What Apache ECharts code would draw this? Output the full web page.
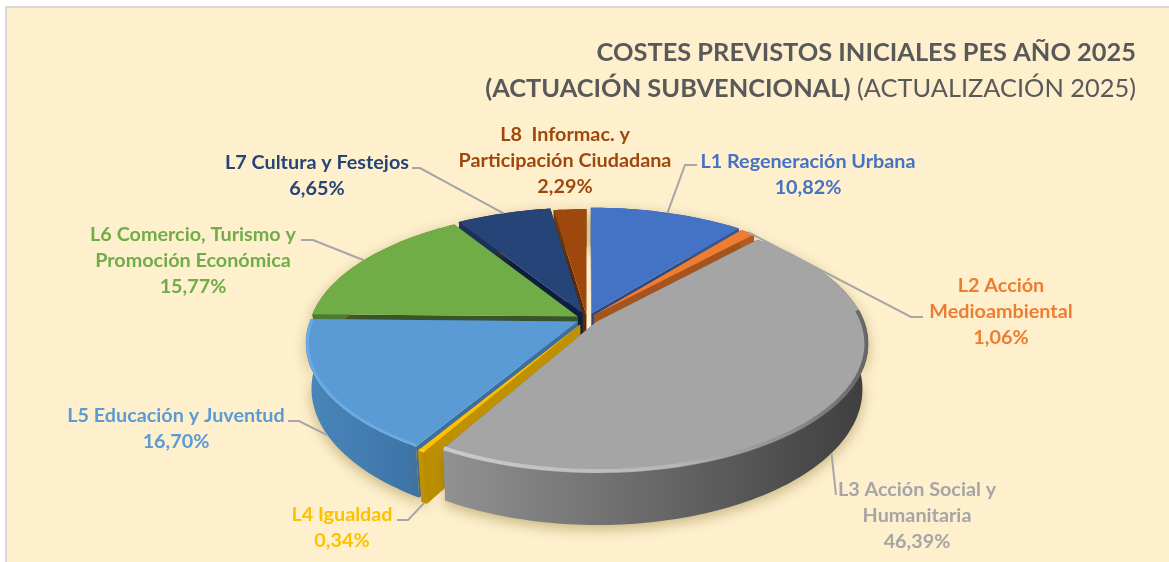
<!DOCTYPE html>
<html>
<head>
<meta charset="utf-8">
<script src="https://cdn.jsdelivr.net/npm/echarts@6/dist/echarts.min.js"></script>
<style>
  html, body { margin: 0; padding: 0; background: #fff; }
  #chart { width: 1169px; height: 562px; }
</style>
</head>
<body>
<div id="chart"></div>
<script>
// datos
var categories = ['L1 Regeneración Urbana', 'L2 Acción\nMedioambiental', 'L3 Acción Social y\nHumanitaria', 'L4 Igualdad',
  'L5 Educación y Juventud', 'L6 Comercio, Turismo y\nPromoción Económica', 'L7 Cultura y Festejos', 'L8  Informac. y\nParticipación Ciudadana'];
var values = [10.82, 1.06, 46.39, 0.34, 16.70, 15.77, 6.65, 2.29];

// estilo de cada porcion
var topColors = ['#4472c4', '#ed7d31', '#a5a5a5', '#ffc000', '#5b9bd5', '#70ad47', '#264478', '#9e480e'];
var sideColors = ['#2a4a85', '#a5531f', '#6e6e6e', '#bf9000', '#3d6f9e', '#37542a', '#0d1f3f', '#5c2a08'];
var labelColors = ['#4472c4', '#ed7d31', '#a5a5a5', '#ffc000', '#5b9bd5', '#70ad47', '#264478', '#9e480e'];
var wallStops = [['#36568f', '#36568f'], ['#b25a20', '#b25a20'], ['#929292', '#3e3e3e'], ['#c79600', '#b98c00'],
  ['#4a86bb', '#3d73a6'], ['#4f7a33', '#4f7a33'], ['#1b3156', '#1b3156'], ['#6e3309', '#6e3309']];
var explode = [0.05, 0.04, 0.042, 0.05, 0.04, 0.04, 0.05, 0.03];
var drawOrder = [7, 6, 0, 5, 1, 4, 3, 2];

// sitio de las etiquetas
var labelPos = [[808, 175], [1001, 312], [917, 516], [342, 528], [176, 429], [193, 261], [317, 176], [565, 161]];
var leaderEnds = [[[685, 165], [697, 165]], [[911, 317], [923, 317]], [[836, 495]], [[408, 520], [397, 520]],
  [[299, 421], [288, 421]], [[313, 240], [301, 240]], [[420, 168], [412, 168]], null];

var cx = 587, cy = 319, rx = 267, ry = 124.5, persp = 0.163, wallH = 44, baseScale = 0.98;
var font = 'Lato, Carlito, "Open Sans", sans-serif';

var total = values.reduce(function (a, b) { return a + b; }, 0);
var starts = [], acc = 0;
values.forEach(function (v) { starts.push(acc / total * Math.PI * 2); acc += v; });

function project(px, py) {
  var d = 1 + persp * py;
  return [cx + rx * px / d, cy - ry * py / d, wallH / d];
}
function slice(i) {
  var a0 = starts[i], a1 = a0 + values[i] / total * Math.PI * 2, mid = (a0 + a1) / 2;
  var ox = Math.sin(mid) * explode[i], oy = Math.cos(mid) * explode[i];
  var n = Math.max(3, Math.ceil((a1 - a0) * 40)), rim = [];
  for (var k = 0; k <= n; k++) {
    var a = a0 + (a1 - a0) * k / n;
    rim.push(project(ox + Math.sin(a), oy + Math.cos(a)));
  }
  return { apex: project(ox, oy), rim: rim, midPt: project(ox + Math.sin(mid), oy + Math.cos(mid)), a0: a0, a1: a1, ox: ox, oy: oy };
}
function xy(p) { return [p[0], p[1]]; }
// punto en el plano inferior, algo mas pequeno por la perspectiva
function low(p) { return [cx + (p[0] - cx) * baseScale, p[1] + p[2]]; }
function poly(points, style) {
  return { type: 'polygon', shape: { points: points }, style: style };
}

function renderSlice(params, api) {
  var i = api.value(0), s = slice(i), children = [];
  var last = s.rim[s.rim.length - 1], first = s.rim[0];
  // caras radiales
  children.push(poly([xy(s.apex), xy(first), low(first), low(s.apex)], { fill: sideColors[i] }));
  children.push(poly([xy(s.apex), xy(last), low(last), low(s.apex)], { fill: sideColors[i] }));
  // pared exterior
  var wall = s.rim.map(xy).concat(s.rim.slice().reverse().map(low));
  children.push(poly(wall, {
    fill: { type: 'linear', x: 0, y: 0, x2: 1, y2: 0, colorStops: [{ offset: 0, color: wallStops[i][0] }, { offset: 1, color: wallStops[i][1] }] },
    shadowBlur: 14, shadowColor: 'rgba(120,95,20,0.42)', shadowOffsetY: 4
  }));
  // cara superior
  children.push(poly([xy(s.apex)].concat(s.rim.map(xy)), { fill: topColors[i] }));
  // brillo del borde
  if (i === 2 || i === 3 || i === 4) {
    var edge = [];
    for (var k = 0; k <= 60; k++) {
      var a = s.a0 + (s.a1 - s.a0) * k / 60;
      if (Math.cos(a) < 0.1) {
        var p = project(s.ox + Math.sin(a) * 0.994, s.oy + Math.cos(a) * 0.994);
        edge.push(xy(p));
      }
    }
    var stops = i === 2
      ? [{ offset: 0, color: '#d8d8d8' }, { offset: 0.55, color: '#bcbcbc' }, { offset: 0.8, color: '#8a8a8a' }, { offset: 1, color: '#505050' }]
      : [{ offset: 0, color: i === 3 ? '#ffd24d' : '#79b9f2' }, { offset: 1, color: i === 3 ? '#ffd24d' : '#79b9f2' }];
    children.push({
      type: 'polyline', shape: { points: edge },
      style: {
        fill: 'none', lineWidth: i === 2 ? 4 : 2.5, opacity: i === 2 ? 0.75 : 0.55,
        stroke: { type: 'linear', x: 0, y: 0, x2: 1, y2: 0, colorStops: stops }
      }
    });
  }
  return { type: 'group', children: children };
}

function renderLabel(params, api) {
  var i = api.value(0), s = slice(i), children = [];
  if (leaderEnds[i]) {
    var m = s.midPt;
    var front = Math.cos((s.a0 + s.a1) / 2) < 0 ? 1 : 0;
    var start = front ? low(m) : xy(m);
    children.push({
      type: 'polyline', shape: { points: [start].concat(leaderEnds[i]) },
      style: { fill: 'none', stroke: '#a6a6a6', lineWidth: 2 }
    });
  }
  children.push({
    type: 'text',
    style: {
      text: categories[i] + '\n' + values[i].toFixed(2).replace('.', ',') + '%',
      x: labelPos[i][0], y: labelPos[i][1], align: 'center', verticalAlign: 'middle',
      fill: labelColors[i], fontFamily: font, fontWeight: 'bold', fontSize: 19.8, lineHeight: 26
    }
  });
  return { type: 'group', children: children };
}

var chart = echarts.init(document.getElementById('chart'));
chart.setOption({
  animation: false,
  backgroundColor: '#fff',
  title: {
    text: '{b|COSTES PREVISTOS INICIALES PES AÑO 2025}\n{b|(ACTUACIÓN SUBVENCIONAL)}{r| (ACTUALIZACIÓN 2025)}',
    left: 1131, top: 30, textAlign: 'right',
    textStyle: {
      align: 'right',
      rich: {
        b: { fontFamily: font, fontWeight: 'bold', fontSize: 25.4, lineHeight: 36, color: '#595959', align: 'right' },
        r: { fontFamily: font, fontWeight: 'normal', fontSize: 25.4, lineHeight: 36, color: '#595959', align: 'right' }
      }
    }
  },
  graphic: [{
    type: 'rect', z: -10, silent: true,
    shape: { x: 6, y: 7, width: 1180, height: 570 },
    style: { fill: '#fef0cd', stroke: '#d9d9d9', lineWidth: 2 }
  }],
  series: [
    { type: 'custom', coordinateSystem: 'none', z: 2, silent: true, data: drawOrder, renderItem: renderSlice },
    { type: 'custom', coordinateSystem: 'none', z: 3, silent: true, data: drawOrder, renderItem: renderLabel }
  ]
});
</script>
</body>
</html>
